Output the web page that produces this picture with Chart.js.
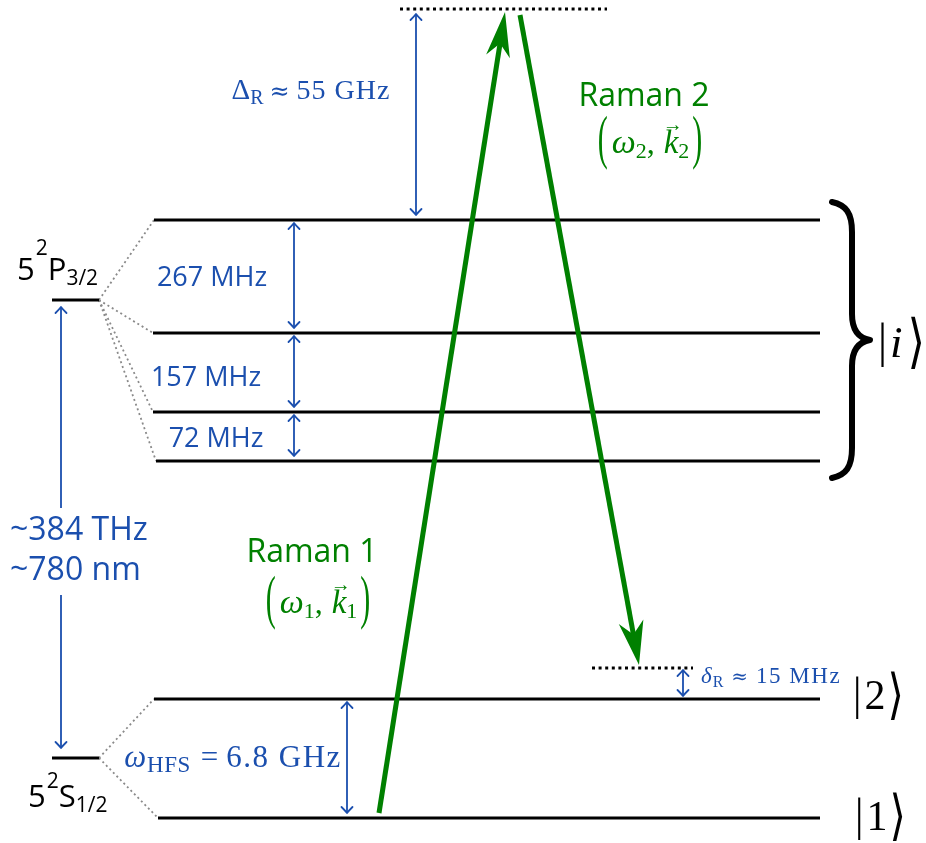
<!DOCTYPE html>
<html><head><meta charset="utf-8">
<script src="https://cdn.jsdelivr.net/npm/chart.js@4/dist/chart.umd.min.js"></script>
<style>html,body{margin:0;padding:0;background:#fff;overflow:hidden}canvas{display:block}</style>
</head><body>
<canvas id="c" width="926" height="843"></canvas>
<script>
// ---- Diagram data (energy axis points upward, schematic units) ----
const excitedLevels = [623, 510, 431, 382];      // 5P3/2 hyperfine F'=3,2,1,0
const excitedStarts = [154, 153, 153, 156];
const groundLevels  = [144, 25];                 // |2>, |1>
const groundStarts  = [154, 158];
const levelEnd      = 820;
const fineLevels    = [543, 85];                 // 5P3/2, 5S1/2
const fineSpan      = [52, 99];
const virtualLevel  = 834;  const virtualSpan  = [400, 607];
const detunedLevel  = 175;  const detunedSpan  = [592, 693];
const splitLabels   = ['267 MHz', '157 MHz', '72 MHz'];
const splitArrowX   = 294;
const deltaRX = 416, hfsX = 347, deltaSmallX = 683, opticalX = 61;
const opticalBreak  = [335, 248];
const raman1 = [{x:379, y:30},  {x:505, y:831}];
const raman2 = [{x:520, y:828}, {x:639, y:178}];
const braceSpan = [excitedLevels[0] + 18, excitedLevels[3] - 17];

const BLUE = '#1b4fae', GREEN = '#008000', GRAY = '#8a8a8a';
const SANS = '"Open Sans","Noto Sans",sans-serif';
const SERIF = '"Liberation Serif","DejaVu Serif",serif';
const DSERIF = '"DejaVu Serif",serif';

const datasets = [];
function line(points, opts){
  datasets.push(Object.assign({data: points, showLine: true, pointRadius: 0, borderColor: '#000',
    borderWidth: 3, fill: false, tension: 0, borderCapStyle: 'butt', order: 2}, opts));
}
// hyperfine levels
excitedLevels.forEach((E,i)=> line([{x:excitedStarts[i], y:E},{x:levelEnd, y:E}]));
groundLevels.forEach((E,i)=> line([{x:groundStarts[i], y:E},{x:levelEnd, y:E}]));
// fine levels
fineLevels.forEach(E=> line([{x:fineSpan[0], y:E},{x:fineSpan[1], y:E}]));
// gray connectors
excitedLevels.forEach((E,i)=> line([{x:fineSpan[1], y:fineLevels[0]},{x:excitedStarts[i], y:E}],
  {borderColor: GRAY, borderWidth: 1.8, borderDash:[2,3], order: 3}));
groundLevels.forEach((E,i)=> line([{x:fineSpan[1], y:fineLevels[1]},{x:groundStarts[i], y:E}],
  {borderColor: GRAY, borderWidth: 1.8, borderDash:[2,3], order: 3}));
// virtual levels (dotted)
line([{x:virtualSpan[0], y:virtualLevel},{x:virtualSpan[1], y:virtualLevel}], {borderDash:[3,3.6]});
line([{x:detunedSpan[0], y:detunedLevel},{x:detunedSpan[1], y:detunedLevel}], {borderDash:[3,3.6]});
// blue double arrows
const G = 4;
function blueArrow(x, a, b, heads){
  line([{x, y:a},{x, y:b}], {borderColor: BLUE, borderWidth: 1.8, order: 1, arrowHeads: Object.assign({type:'open'}, heads)});
}
for (let i=0;i<3;i++) blueArrow(splitArrowX, excitedLevels[i]-G+1, excitedLevels[i+1]+G+1, {start:true,end:true});
blueArrow(deltaRX, virtualLevel-5, excitedLevels[0]+5, {start:true,end:true});
blueArrow(hfsX, groundLevels[0]-3, groundLevels[1]+5, {start:true,end:true});
blueArrow(deltaSmallX, detunedLevel-2, groundLevels[0]+3, {start:true,end:true});
blueArrow(opticalX, fineLevels[0]-7, opticalBreak[0], {start:true});
blueArrow(opticalX, opticalBreak[1], fineLevels[1]+10, {end:true});
// green Raman beams
line(raman1, {borderColor: GREEN, borderWidth: 5, order: 0, arrowHeads:{type:'stealth', end:true, len:45, half:12, notch:32}});
line(raman2, {borderColor: GREEN, borderWidth: 5, order: 0, arrowHeads:{type:'stealth', end:true, len:44, half:12.5, notch:31}});

function headGeom(meta, atEnd){
  const p = meta.data; const n = p.length;
  const tip = atEnd ? p[n-1] : p[0], prev = atEnd ? p[n-2] : p[1];
  const dx = tip.x-prev.x, dy = tip.y-prev.y, L = Math.hypot(dx,dy);
  return {tx:tip.x, ty:tip.y, ux:dx/L, uy:dy/L};
}
const arrowPlugin = {
  id: 'arrows',
  beforeDatasetDraw(chart, args){
    const ds = chart.data.datasets[args.index];
    if (!ds.arrowHeads || ds.arrowHeads.type!=='stealth') return;
    const h = headGeom(args.meta, true), ctx = chart.ctx;
    const nx = h.tx - h.ux*(ds.arrowHeads.notch-2), ny = h.ty - h.uy*(ds.arrowHeads.notch-2);
    const px = -h.uy, py = h.ux, B = 3000;
    ctx.save();
    ctx.beginPath();
    ctx.moveTo(nx+px*B, ny+py*B); ctx.lineTo(nx-px*B, ny-py*B);
    ctx.lineTo(nx-px*B-h.ux*B, ny-py*B-h.uy*B); ctx.lineTo(nx+px*B-h.ux*B, ny+py*B-h.uy*B);
    ctx.closePath(); ctx.clip();
  },
  afterDatasetDraw(chart, args){
    const ds = chart.data.datasets[args.index];
    if (!ds.arrowHeads) return;
    const ctx = chart.ctx, a = ds.arrowHeads;
    if (a.type==='stealth'){
      ctx.restore();
      const h = headGeom(args.meta, true), px=-h.uy, py=h.ux;
      const bx = h.tx-h.ux*a.len, by = h.ty-h.uy*a.len;
      ctx.save(); ctx.fillStyle = ds.borderColor;
      ctx.beginPath();
      ctx.moveTo(h.tx, h.ty);
      ctx.lineTo(bx+px*a.half, by+py*a.half);
      ctx.lineTo(h.tx-h.ux*a.notch, h.ty-h.uy*a.notch);
      ctx.lineTo(bx-px*a.half, by-py*a.half);
      ctx.closePath(); ctx.fill(); ctx.restore();
    } else {
      const draw = (atEnd)=>{
        const h = headGeom(args.meta, atEnd), px=-h.uy, py=h.ux, l=6, w=5.5;
        ctx.save(); ctx.strokeStyle = ds.borderColor; ctx.lineWidth = 1.8; ctx.lineCap='round'; ctx.lineJoin='round';
        ctx.beginPath();
        ctx.moveTo(h.tx-h.ux*l+px*w, h.ty-h.uy*l+py*w);
        ctx.quadraticCurveTo(h.tx-h.ux*2+px*1.5, h.ty-h.uy*2+py*1.5, h.tx, h.ty);
        ctx.quadraticCurveTo(h.tx-h.ux*2-px*1.5, h.ty-h.uy*2-py*1.5, h.tx-h.ux*l-px*w, h.ty-h.uy*l-py*w);
        ctx.stroke(); ctx.restore();
      };
      if (a.start) draw(false);
      if (a.end) draw(true);
    }
  }
};

const bracePlugin = {
  id: 'brace',
  afterDatasetsDraw(chart){
    const ctx = chart.ctx, xs = chart.scales.x, ys = chart.scales.y;
    const T = ys.getPixelForValue(braceSpan[0]), Bm = ys.getPixelForValue(braceSpan[1]);
    const M = (T+Bm)/2, xL = xs.getPixelForValue(832), xC = xs.getPixelForValue(852), xT = xs.getPixelForValue(870);
    ctx.save(); ctx.strokeStyle='#000'; ctx.lineWidth=6; ctx.lineCap='round'; ctx.lineJoin='round';
    ctx.beginPath();
    ctx.moveTo(xL, T);
    ctx.bezierCurveTo(xL+14, T+3, xC, T+11, xC, T+30);
    ctx.lineTo(xC, M-26);
    ctx.bezierCurveTo(xC, M-10, xC+6, M-2, xT, M);
    ctx.bezierCurveTo(xC+6, M+2, xC, M+10, xC, M+26);
    ctx.lineTo(xC, Bm-30);
    ctx.bezierCurveTo(xC, Bm-11, xL+14, Bm-3, xL, Bm);
    ctx.stroke(); ctx.restore();
  }
};

// ---- Text labels (rich runs) ----
const f = (s, fam, st) => (st? st+' ':'') + s + 'px ' + fam;
function ket(inner, italic, size){
  const s = size || 42;
  return [{t:'|', font:f(s,SERIF), sy:1.08, sp:3},
          {t:inner, font:f(s,SERIF,italic?'italic':''), sp:italic?5:2},
          {t:'\u27e9', font:f(s,SERIF), sy:1.3, dy:4}];
}
function pair(idx){
  return [
    {t:'(', font:f(30,SERIF), color:GREEN, sy:2.0, dy:4, sp:4},
    {t:'\u03c9', font:f(34,SERIF,'italic'), color:GREEN}, {t:idx, font:f(22,SERIF), color:GREEN, dy:5},
    {t:',', font:f(32,SERIF), color:GREEN, sp:9},
    {t:'k', font:f(33,SERIF,'italic'), color:GREEN, vec:true}, {t:idx, font:f(22,SERIF), color:GREEN, dy:5, sp:3},
    {t:')', font:f(30,SERIF), color:GREEN, sy:2.0, dy:4}];
}
const labels = [
  {x:212, y:557, align:'center', runs:[{t:splitLabels[0], font:f(27,SANS), color:BLUE}]},
  {x:206, y:457, align:'center', runs:[{t:splitLabels[1], font:f(27,SANS), color:BLUE}]},
  {x:216, y:396, align:'center', runs:[{t:splitLabels[2], font:f(27,SANS), color:BLUE}]},
  {x:10, y:303, align:'left', runs:[{t:'~384 THz', font:f(32,SANS), color:BLUE}]},
  {x:10, y:263, align:'left', runs:[{t:'~780 nm', font:f(32,SANS), color:BLUE}]},
  {x:312, y:281, align:'center', runs:[{t:'Raman 1', font:f(32,SANS), color:GREEN}]},
  {x:644, y:737, align:'center', runs:[{t:'Raman 2', font:f(32,SANS), color:GREEN}]},
  {x:17, y:563, align:'left', runs:[
    {t:'5', font:f(31,SANS), color:'#000', sp:1}, {t:'2', font:f(21,SANS), color:'#000', dy:-25},
    {t:'P', font:f(31,SANS), color:'#000'}, {t:'3/2', font:f(21,SANS), color:'#000', dy:5}]},
  {x:28, y:36, align:'left', runs:[
    {t:'5', font:f(31,SANS), color:'#000', sp:1}, {t:'2', font:f(21,SANS), color:'#000', dy:-19},
    {t:'S', font:f(31,SANS), color:'#000'}, {t:'1/2', font:f(21,SANS), color:'#000', dy:5}]},
  {x:311, y:744, align:'center', runs:[
    {t:'\u0394', font:f(29,SERIF), color:BLUE}, {t:'R', font:f(20,SERIF), color:BLUE, dy:5, sp:6},
    {t:'\u2248', font:f(24,DSERIF), color:BLUE, sp:7}, {t:'55 GHz', font:f(28,SERIF), color:BLUE, ls:1}]},
  {x:233, y:76, align:'center', runs:[
    {t:'\u03c9', font:f(31,SERIF,'italic'), color:BLUE, sp:1}, {t:'HFS', font:f(23,SERIF), color:BLUE, dy:5, sp:10, ls:0.5},
    {t:'=', font:f(31,SERIF), color:BLUE, sp:8}, {t:'6.8 GHz', font:f(31,SERIF), color:BLUE, ls:1.5}]},
  {x:701, y:160, align:'left', runs:[
    {t:'\u03b4', font:f(23,SERIF,'italic'), color:BLUE, sp:1}, {t:'R', font:f(16,SERIF), color:BLUE, dy:4, sp:8},
    {t:'\u2248', font:f(20,DSERIF), color:BLUE, sp:8}, {t:'15 MHz', font:f(23,SERIF), color:BLUE, ls:1.5}]},
  {x:853, y:134, align:'left', runs:ket('2')},
  {x:855, y:13, align:'left', runs:ket('1')},
  {x:878, y:486, align:'left', runs:ket('i', true, 45)},
  {x:318, y:230, align:'center', runs:pair('1')},
  {x:650, y:690, align:'center', runs:pair('2')},
];

const textPlugin = {
  id: 'texts',
  afterDraw(chart){
    const ctx = chart.ctx, xs = chart.scales.x, ys = chart.scales.y;
    labels.forEach(L=>{
      const X = xs.getPixelForValue(L.x), Y = ys.getPixelForValue(L.y);
      let w = 0;
      L.runs.forEach(r=>{ ctx.font = r.font; ctx.letterSpacing = (r.ls||0)+'px';
        r._w = ctx.measureText(r.t).width + (r.sp||0); w += r._w; });
      ctx.letterSpacing = '0px';
      let cx = L.align==='center' ? X - w/2 : (L.align==='right' ? X - w : X);
      ctx.save(); ctx.textBaseline = 'alphabetic'; ctx.textAlign = 'left';
      L.runs.forEach(r=>{
        ctx.font = r.font; ctx.fillStyle = r.color || '#000'; ctx.letterSpacing = (r.ls||0)+'px';
        const yy = Y + (r.dy||0);
        if (r.sy){ ctx.save(); ctx.translate(cx, yy); ctx.scale(1, r.sy); ctx.fillText(r.t, 0, 0); ctx.restore(); }
        else ctx.fillText(r.t, cx, yy);
        ctx.letterSpacing = '0px';
        if (r.vec){
          const sz = parseFloat(r.font.match(/(\d+(\.\d+)?)px/)[1]);
          ctx.font = f(Math.round(sz*0.62), SERIF);
          ctx.textAlign = 'center';
          ctx.fillText('\u2192', cx + r._w*0.62, yy - sz*0.66);
          ctx.textAlign = 'left';
        }
        cx += r._w;
      });
      ctx.restore();
    });
  }
};

new Chart(document.getElementById('c').getContext('2d'), {
  type: 'scatter',
  data: {datasets},
  options: {
    responsive: false, animation: false, events: [],
    layout: {padding: 0},
    plugins: {legend: {display: false}, tooltip: {enabled: false}},
    scales: {
      x: {type: 'linear', min: 0, max: 926, display: false},
      y: {type: 'linear', min: 0, max: 843, display: false}
    }
  },
  plugins: [arrowPlugin, bracePlugin, textPlugin]
});
</script>
</body></html>
